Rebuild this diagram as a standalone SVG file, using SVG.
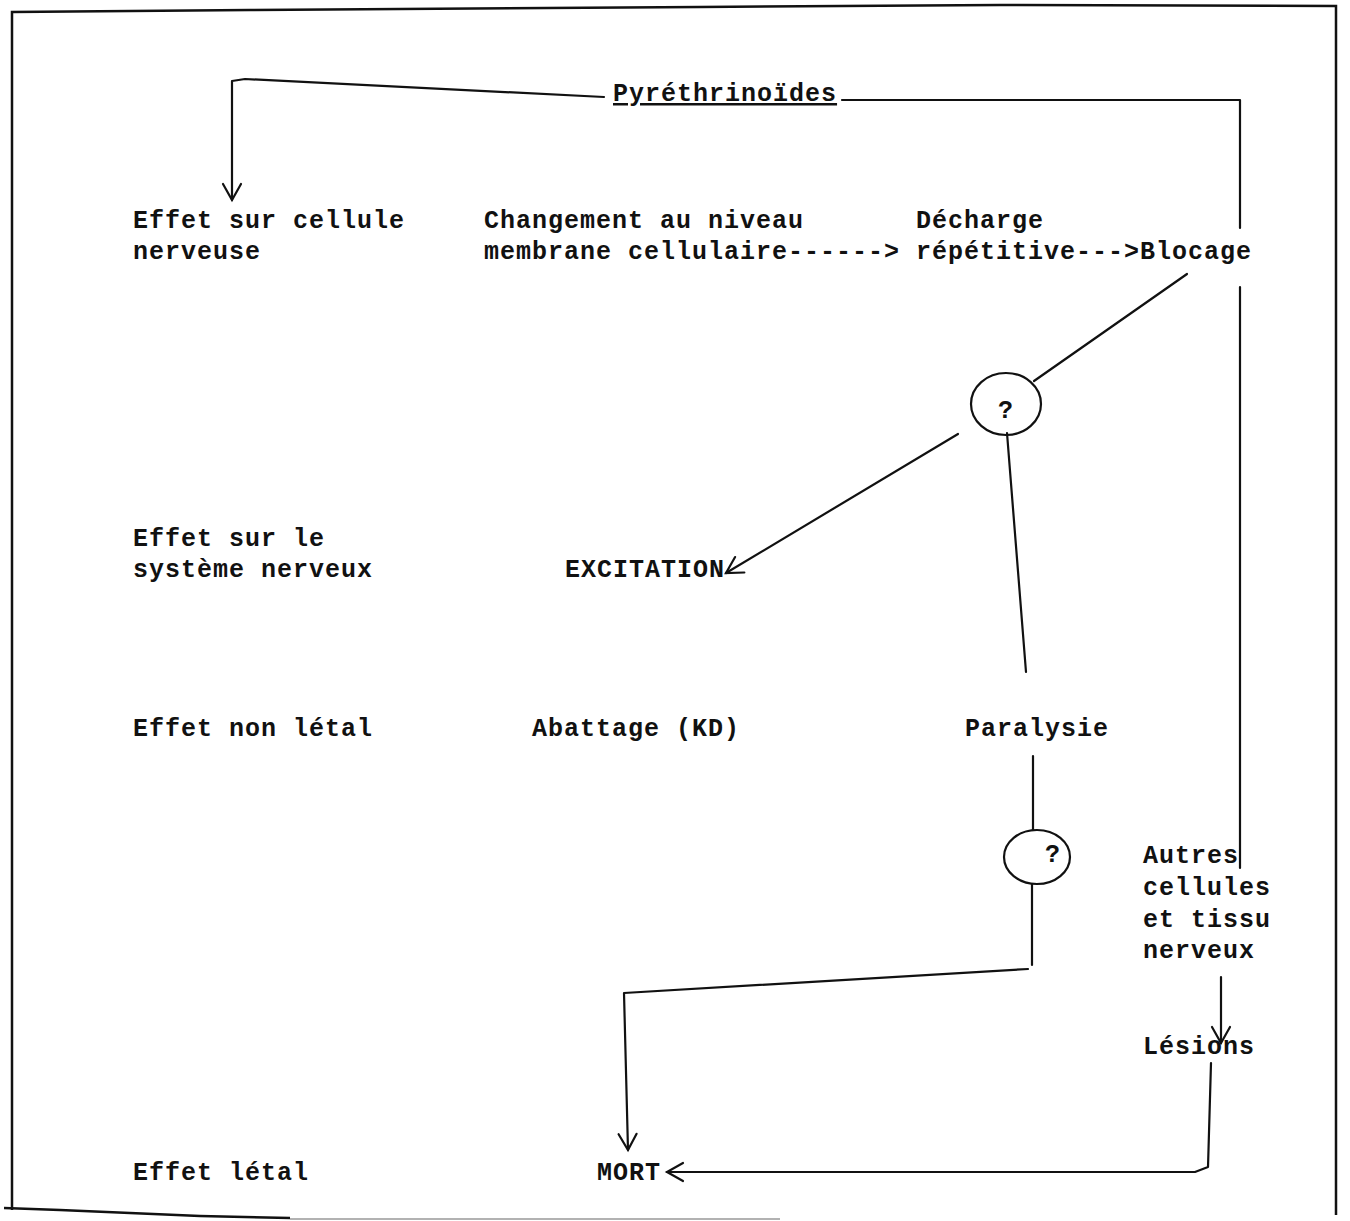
<svg xmlns="http://www.w3.org/2000/svg" width="1350" height="1221" viewBox="0 0 1350 1221">
<style>
.t{font-family:"Liberation Mono","DejaVu Sans Mono",monospace;font-size:25px;font-weight:bold;letter-spacing:1px;fill:#111;}
.c{fill:none;stroke:#111;stroke-width:2.2;stroke-linecap:round;stroke-linejoin:round;}
.b{fill:none;stroke:#111;stroke-width:2.5;}
</style>
<defs>
<marker id="v" markerUnits="userSpaceOnUse" viewBox="-18 -12 20 24" refX="0" refY="0" markerWidth="20" markerHeight="24" orient="auto" overflow="visible">
<path d="M-16,-9 L0,0 L-16,9" fill="none" stroke="#111" stroke-width="2.2" stroke-linecap="round"/>
</marker>
</defs>
<rect width="1350" height="1221" fill="#fff"/>
<g id="frame">
<path class="b" d="M12,1210 L12,12 L250,10 L700,7 L1000,5 L1336,6 L1336,1215"/>
<path class="b" d="M4,1208 L60,1210 L200,1216 L290,1218"/>
<path d="M290,1219 L780,1219" stroke="#999" stroke-width="1.5"/>
</g>
<g id="connectors">
<path class="c" d="M604,97 L245,79 L232,81 L232,200" marker-end="url(#v)"/>
<path class="c" d="M842,100 L1240,100 L1240,228"/>
<path class="c" d="M1240,287 L1240,868"/>
<path class="c" d="M1187,274 L1034,381"/>
<path class="c" d="M958,434 L726,573" marker-end="url(#v)"/>
<path class="c" d="M1007,433 L1026,672"/>
<path class="c" d="M1033,756 L1033,830"/>
<path class="c" d="M1032,884 L1032,965"/>
<path class="c" d="M1028,969 L624,993 L628,1150" marker-end="url(#v)"/>
<path class="c" d="M1221,977 L1221,1043" marker-end="url(#v)"/>
<path class="c" d="M1211,1063 L1208,1167 L1195,1172 L667,1172" marker-end="url(#v)"/>
</g>
<g id="n-pyrethrinoides"><text class="t" x="613" y="101" text-decoration="underline">Pyréthrinoïdes</text></g>
<g id="n-effet-cellule"><text class="t" x="133" y="228">Effet sur cellule</text><text class="t" x="133" y="259">nerveuse</text></g>
<g id="n-changement"><text class="t" x="484" y="228">Changement au niveau</text><text class="t" x="484" y="259">membrane cellulaire------&gt;</text></g>
<g id="n-decharge"><text class="t" x="916" y="228">Décharge</text><text class="t" x="916" y="259">répétitive---&gt;Blocage</text></g>
<g id="n-q1"><ellipse class="c" cx="1006" cy="404" rx="35" ry="31"/><text class="t" x="998" y="418">?</text></g>
<g id="n-effet-systeme"><text class="t" x="133" y="546">Effet sur le</text><text class="t" x="133" y="577">système nerveux</text></g>
<g id="n-excitation"><text class="t" x="565" y="577">EXCITATION</text></g>
<g id="n-effet-non-letal"><text class="t" x="133" y="736">Effet non létal</text></g>
<g id="n-abattage"><text class="t" x="532" y="736">Abattage (KD)</text></g>
<g id="n-paralysie"><text class="t" x="965" y="736">Paralysie</text></g>
<g id="n-q2"><ellipse class="c" cx="1037" cy="857" rx="33" ry="27"/><text class="t" x="1045" y="862">?</text></g>
<g id="n-autres"><text class="t" x="1143" y="863">Autres</text><text class="t" x="1143" y="895">cellules</text><text class="t" x="1143" y="927">et tissu</text><text class="t" x="1143" y="958">nerveux</text></g>
<g id="n-lesions"><text class="t" x="1143" y="1054">Lésions</text></g>
<g id="n-effet-letal"><text class="t" x="133" y="1180">Effet létal</text></g>
<g id="n-mort"><text class="t" x="597" y="1180">MORT</text></g>
</svg>
